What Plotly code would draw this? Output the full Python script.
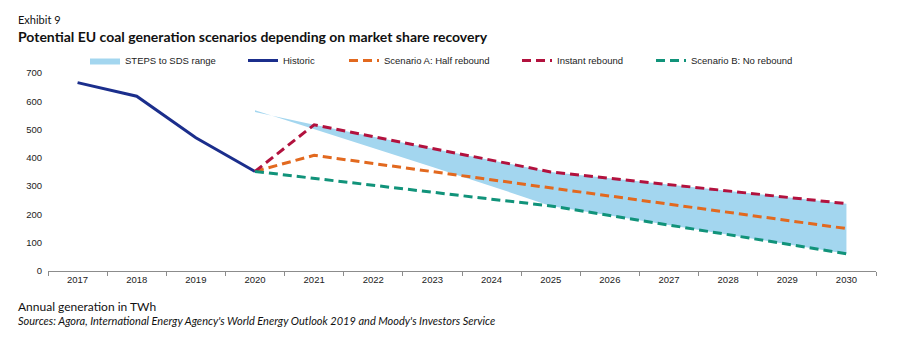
import plotly.graph_objects as go

# Annual EU coal generation (TWh)
years = list(range(2017, 2031))
hist_years = [2017, 2018, 2019, 2020]
historic = [666, 618, 471, 352]

scen_years = list(range(2020, 2031))
instant_rebound = [352, 517, 475, 434, 392, 350, 328, 305, 283, 260, 238]
half_rebound = [352, 409, 380, 351, 323, 294, 265, 236, 207, 179, 150]
no_rebound = [352, 327, 303, 278, 254, 230, 196, 163, 129, 95, 61]

# IEA range: Stated Policies (upper) to Sustainable Development (lower)
steps_upper = [562, 517, 475, 434, 392, 350, 328, 305, 283, 260, 238]
sds_lower = [568, 502, 436, 368, 300, 230, 196, 163, 129, 95, 61]

y_ticks = [0, 100, 200, 300, 400, 500, 600, 700]

W, H = 899, 348
L, R, T, B = 48, 23, 73, 77
PW, PH = W - L - R, H - T - B


def px(x):
    return (x - L) / PW


def py(y):
    return (H - B - y) / PH


C_HIST = "#1b2e8c"
C_INST = "#b2123e"
C_HALF = "#e2691f"
C_NONE = "#11937a"
C_BAND = "#a3d6ef"
DASH = "9px,5px"
FONT = "Liberation Sans, Arial, sans-serif"
TITLE_FONT = "Lato, Liberation Sans, sans-serif"

fig = go.Figure()

fig.add_trace(go.Scatter(
    x=scen_years, y=sds_lower, mode="lines", line=dict(width=0, color=C_BAND),
    showlegend=False, hoverinfo="skip"))
fig.add_trace(go.Scatter(
    x=scen_years, y=steps_upper, mode="lines", line=dict(width=0, color=C_BAND),
    fill="tonexty", fillcolor=C_BAND, name="STEPS to SDS range", legend="legend"))

fig.add_trace(go.Scatter(
    x=hist_years, y=historic, mode="lines", name="Historic", legend="legend2",
    line=dict(color=C_HIST, width=3)))
fig.add_trace(go.Scatter(
    x=scen_years, y=half_rebound, mode="lines", name="Scenario A: Half rebound",
    legend="legend3", line=dict(color=C_HALF, width=3, dash=DASH)))
fig.add_trace(go.Scatter(
    x=scen_years, y=instant_rebound, mode="lines", name="Instant rebound",
    legend="legend4", line=dict(color=C_INST, width=3, dash=DASH)))
fig.add_trace(go.Scatter(
    x=scen_years, y=no_rebound, mode="lines", name="Scenario B: No rebound",
    legend="legend5", line=dict(color=C_NONE, width=3, dash=DASH)))

boundaries = [y - 0.5 for y in years] + [years[-1] + 0.5]


def legend_at(text_x):
    return dict(orientation="h", x=px(text_x - 37), y=py(60.5), xanchor="left",
                yanchor="middle", font=dict(family=FONT, size=9.5, color="#222"),
                bgcolor="rgba(0,0,0,0)", traceorder="normal")


fig.update_layout(
    width=W, height=H,
    margin=dict(l=L, r=R, t=T, b=B),
    paper_bgcolor="white", plot_bgcolor="white",
    font=dict(family=FONT, size=10, color="#222"),
    showlegend=True,
    legend=legend_at(122),
    legend2=legend_at(280),
    legend3=legend_at(381),
    legend4=legend_at(554),
    legend5=legend_at(688),
    xaxis=dict(range=[2016.5, 2030.5], tickmode="array", tickvals=years,
               ticktext=[str(y) for y in years], ticks="", showgrid=False,
               zeroline=False, showline=True, linecolor="#8c8c8c", linewidth=1,
               tickfont=dict(family=FONT, size=9.5, color="#222"),
               minor=dict(tickmode="array", tickvals=boundaries, ticks="outside",
                          ticklen=4, tickcolor="#8c8c8c", tickwidth=1, showgrid=False)),
    yaxis=dict(range=[0, 700], tickmode="array", tickvals=y_ticks, ticks="",
               showgrid=False, zeroline=False, showline=False,
               tickfont=dict(family=FONT, size=9.5, color="#222"), ticklabelstandoff=5),
    annotations=[
        dict(text="Exhibit 9", xref="paper", yref="paper", x=px(16), y=py(19),
             xanchor="left", yanchor="middle", showarrow=False,
             font=dict(family=TITLE_FONT, size=11, color="#111")),
        dict(text="<b>Potential EU coal generation scenarios depending on market share recovery</b>",
             xref="paper", yref="paper", x=px(16), y=py(36), xanchor="left", yanchor="middle",
             showarrow=False,
             font=dict(family=TITLE_FONT, size=14, color="#111")),
        dict(text="Annual generation in TWh", xref="paper", yref="paper", x=px(16), y=py(306),
             xanchor="left", yanchor="middle", showarrow=False,
             font=dict(family=TITLE_FONT, size=12, color="#111")),
        dict(text="<i>Sources: Agora, International Energy Agency's World Energy Outlook 2019 and Moody's Investors Service</i>",
             xref="paper", yref="paper", x=px(16), y=py(320), xanchor="left", yanchor="middle",
             showarrow=False,
             font=dict(family=TITLE_FONT, size=11, color="#111")),
    ],
)

fig.write_html("out.html")
